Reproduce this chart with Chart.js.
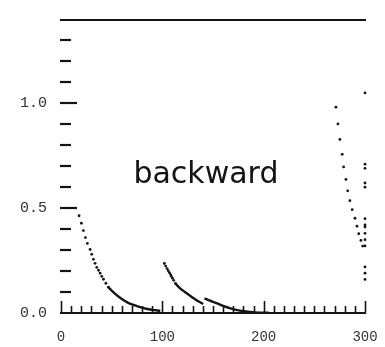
<!DOCTYPE html>
<html>
<head>
<meta charset="utf-8">
<script src="https://cdn.jsdelivr.net/npm/chart.js@4.4.1/dist/chart.umd.min.js"></script>
<style>
  html, body { margin: 0; padding: 0; background: #fff; }
  #wrap { width: 385px; height: 347px; }
</style>
</head>
<body>
<div id="wrap"><canvas id="myChart"></canvas></div>
<script>
// values
const decay1DotsX = [17.8, 20.1, 22.1, 24.1, 26.0, 28.7, 30.3, 32.0, 33.6, 35.3, 37.0, 38.6, 40.2, 41.9, 44.3, 46.8];
const decay1DotsY = [0.464, 0.428, 0.393, 0.360, 0.332, 0.303, 0.280, 0.256, 0.237, 0.218, 0.204, 0.190, 0.175, 0.161, 0.142, 0.123];
const decay1LineX = [46.8, 50, 55, 60, 65, 70, 78, 85, 90, 98];
const decay1LineY = [0.123, 0.107, 0.085, 0.067, 0.052, 0.041, 0.028, 0.019, 0.015, 0.010];

const decay2DotsX = [102.0, 103.3, 104.7, 105.8, 106.9, 108.0, 108.9, 110.0, 111.2, 112.9];
const decay2DotsY = [0.236, 0.224, 0.212, 0.202, 0.193, 0.184, 0.175, 0.166, 0.156, 0.141];
const decay2LineX = [112.9, 116, 120, 124.4, 128, 131, 135, 140.3];
const decay2LineY = [0.141, 0.125, 0.108, 0.093, 0.080, 0.070, 0.057, 0.043];

const decay3LineX = [141.6, 145, 150, 154.2, 160, 167.3, 174, 180.5, 187, 195, 205];
const decay3LineY = [0.070, 0.063, 0.053, 0.046, 0.034, 0.022, 0.014, 0.009, 0.005, 0.002, 0.001];

const riseDotsX = [271.3, 273.3, 275.2, 277.5, 278.9, 281.2, 282.9, 285.1, 287.4, 290.1, 292.1, 293.8, 296.0, 297.7];
const riseDotsY = [0.982, 0.902, 0.828, 0.757, 0.697, 0.637, 0.583, 0.536, 0.493, 0.452, 0.414, 0.378, 0.346, 0.319];

const edgeDotsX = [300, 300, 300, 300, 300, 300, 300, 300, 300, 300, 300, 300, 300, 300];
const edgeDotsY = [1.05, 0.71, 0.69, 0.62, 0.60, 0.45, 0.42, 0.41, 0.38, 0.35, 0.32, 0.22, 0.19, 0.16];

const xLabels = [0, 100, 200, 300];
const yLabels = [0.0, 0.5, 1.0];
const noteText = 'backward';
const notePos = [143, 0.619];

const ink = '#141414';

function pts(xs, ys) {
  return xs.map((x, i) => ({ x: x, y: ys[i] }));
}
function dots(xs, ys) {
  return { data: pts(xs, ys), showLine: false, clip: false, pointRadius: 1.4, pointBorderWidth: 0, pointBackgroundColor: ink };
}
function solid(xs, ys) {
  return { data: pts(xs, ys), showLine: true, pointRadius: 0, borderWidth: 2.4, borderColor: ink, tension: 0.35 };
}

// inward tick marks and the handwritten note
const marks = {
  id: 'marks',
  afterDraw(chart) {
    const c = chart.ctx;
    const xs = chart.scales.x, ys = chart.scales.y;
    const area = chart.chartArea;
    c.save();
    c.strokeStyle = ink;
    c.lineWidth = 1.6;
    xs.ticks.forEach(t => {
      const px = Math.round(xs.getPixelForValue(t.value)) + 0.5;
      const len = xLabels.includes(t.value) ? 12 : 7;
      c.beginPath();
      c.moveTo(px, area.bottom);
      c.lineTo(px, area.bottom - len);
      c.stroke();
    });
    c.lineWidth = 2.2;
    ys.ticks.forEach(t => {
      if (t.value <= 0 || t.value >= ys.max - 1e-6) return;
      const py = Math.round(ys.getPixelForValue(t.value));
      const major = yLabels.some(v => Math.abs(v - t.value) < 1e-6);
      c.beginPath();
      c.moveTo(area.left - 1, py);
      c.lineTo(area.left + (major ? 16 : 10), py);
      c.stroke();
    });
    c.fillStyle = ink;
    c.font = '30px "DejaVu Sans"';
    c.textAlign = 'center';
    c.textBaseline = 'alphabetic';
    c.fillText(noteText, xs.getPixelForValue(notePos[0]), ys.getPixelForValue(notePos[1]));
    c.restore();
  }
};

const ctx = document.getElementById('myChart');

new Chart(ctx, {
  type: 'scatter',
  data: {
    datasets: [
      dots(decay1DotsX, decay1DotsY),
      solid(decay1LineX, decay1LineY),
      dots(decay2DotsX, decay2DotsY),
      solid(decay2LineX, decay2LineY),
      solid(decay3LineX, decay3LineY),
      dots(riseDotsX, riseDotsY),
      dots(edgeDotsX, edgeDotsY)
    ]
  },
  options: {
    responsive: true,
    maintainAspectRatio: false,
    animation: false,
    layout: { padding: { left: 6, right: 20, top: 19.5, bottom: -14 } },
    plugins: { legend: { display: false }, tooltip: { enabled: false } },
    scales: {
      x: {
        type: 'linear', position: 'bottom', min: 0, max: 300,
        grid: { display: false, drawTicks: false },
        border: { display: true, color: ink, width: 2 },
        ticks: {
          stepSize: 10, autoSkip: false, maxRotation: 0, padding: 0,
          color: '#333', font: { family: 'Liberation Mono', size: 14, lineHeight: '48px' },
          callback: v => xLabels.includes(v) ? String(v) : ''
        }
      },
      x2: {
        type: 'linear', position: 'top', min: 0, max: 300,
        grid: { display: false, drawTicks: false },
        border: { display: true, color: ink, width: 2 },
        ticks: { display: false }
      },
      y: {
        min: 0, max: 1.4,
        grid: { display: false, drawTicks: false },
        border: { display: false },
        ticks: {
          stepSize: 0.1, autoSkip: false, padding: 14,
          color: '#333', font: { family: 'Liberation Mono', size: 15, lineHeight: 0.6 },
          callback: v => {
            const hit = yLabels.find(l => Math.abs(l - v) < 1e-6);
            return hit === undefined ? '' : hit.toFixed(1);
          }
        }
      }
    }
  },
  plugins: [marks]
});
</script>
</body>
</html>
